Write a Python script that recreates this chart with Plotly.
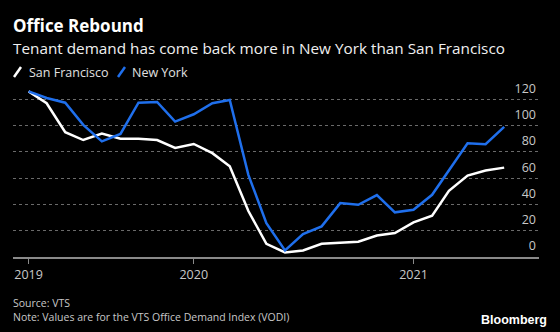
import plotly.graph_objects as go

months = ["2019-04-01", "2019-05-01", "2019-06-01", "2019-07-01", "2019-08-01", "2019-09-01",
          "2019-10-01", "2019-11-01", "2019-12-01", "2020-01-01", "2020-02-01", "2020-03-01",
          "2020-04-01", "2020-05-01", "2020-06-01", "2020-07-01", "2020-08-01", "2020-09-01",
          "2020-10-01", "2020-11-01", "2020-12-01", "2021-01-01", "2021-02-01", "2021-03-01",
          "2021-04-01", "2021-05-01", "2021-06-01"]
san_francisco = [126, 117, 95, 89, 94, 90, 90, 89, 83, 86, 79, 69, 35, 10, 3.5, 5,
                 10, 11, 11.6, 16.4, 18.2, 26.3, 31.4, 50.4, 62, 65.8, 68]
new_york = [126, 121, 117.4, 100.5, 88, 93.6, 117.4, 118, 103, 108.6, 117, 119.5, 62.5,
            25.8, 5, 17.5, 23.3, 41, 39.7, 47.1, 34, 36, 47.3, 66.3, 86.6, 85.8, 99]
y_ticks = [0, 20, 40, 60, 80, 100, 120]
x_tickvals = ["2019-04-01", "2020-01-01", "2021-01-01"]
x_ticktext = ["2019", "2020", "2021"]

W, H = 560, 332
ML, MR, MT, MB = 13, 21, 73, 75
PW, PH = W - ML - MR, H - MT - MB
FONT = "Open Sans"
BLUE = "#1f6fec"


def px(x):
    return (x - ML) / PW


def py(y):
    return (H - MB - y) / PH


fig = go.Figure()
fig.add_trace(go.Scatter(x=months, y=san_francisco, mode="lines", name="San Francisco",
                         line=dict(color="#ffffff", width=2.5), showlegend=False))
fig.add_trace(go.Scatter(x=months, y=new_york, mode="lines", name="New York",
                         line=dict(color=BLUE, width=2.5), showlegend=False))

annotations = [
    dict(text="<b>Office Rebound</b>", x=px(12), y=py(25.5), font=dict(size=17, color="#ffffff")),
    dict(text="Tenant demand has come back more in New York than San Francisco", x=px(12), y=py(47.5),
         font=dict(size=15.3, color="#f0f0f0")),
    dict(text="San Francisco", x=px(28), y=py(72), font=dict(size=12.5, color="#e0e0e0")),
    dict(text="New York", x=px(131), y=py(72), font=dict(size=12.5, color="#e0e0e0")),
    dict(text="Source: VTS<br>Note: Values are for the VTS Office Demand Index (VODI)",
         x=px(12), y=py(309.5), align="left", font=dict(size=10.5, color="#c8c8c8")),
]
for a in annotations:
    a.update(xref="paper", yref="paper", xanchor="left", yanchor="middle", showarrow=False,
             borderpad=0)
    a["font"]["family"] = FONT
annotations.append(dict(text="<b>Bloomberg</b>", x=px(549), y=py(320), xref="paper", yref="paper",
                        xanchor="right", yanchor="middle", showarrow=False,
                        font=dict(family="Liberation Sans", size=12.5, color="#ffffff")))

shapes = [
    dict(type="line", xref="paper", yref="paper", xsizemode="pixel", ysizemode="pixel",
         xanchor=0, yanchor=py(72), x0=1, x1=8, y0=-5, y1=5,
         line=dict(color="#ffffff", width=2.5)),
    dict(type="line", xref="paper", yref="paper", xsizemode="pixel", ysizemode="pixel",
         xanchor=0, yanchor=py(72), x0=105, x1=112, y0=-5, y1=5,
         line=dict(color=BLUE, width=2.5)),
]

fig.update_layout(
    width=W, height=H,
    margin=dict(l=ML, r=MR, t=MT, b=MB, pad=0),
    paper_bgcolor="#000000", plot_bgcolor="#000000",
    annotations=annotations, shapes=shapes,
    showlegend=False,
    font=dict(family=FONT, color="#c8c8c8"),
    xaxis=dict(type="date", range=["2019-03-06", "2021-07-29"],
               tickvals=x_tickvals, ticktext=x_ticktext,
               ticks="outside", ticklen=5, tickcolor="#8a8a8a", tickwidth=1,
               showline=True, linecolor="#8a8a8a", linewidth=1.5,
               showgrid=False, zeroline=False,
               tickfont=dict(size=12.5, color="#c8c8c8", family=FONT)),
    yaxis=dict(range=[0, 140], side="right", tickvals=y_ticks,
               ticklabelposition="inside", ticklabelshift=-11, ticklabelstandoff=0,
               showgrid=True, gridcolor="#6a6a6a", griddash="dot", gridwidth=1,
               zeroline=False, showline=False, ticks="",
               tickfont=dict(size=12.5, color="#c8c8c8", family=FONT)),
)

fig.write_html("out.html")
